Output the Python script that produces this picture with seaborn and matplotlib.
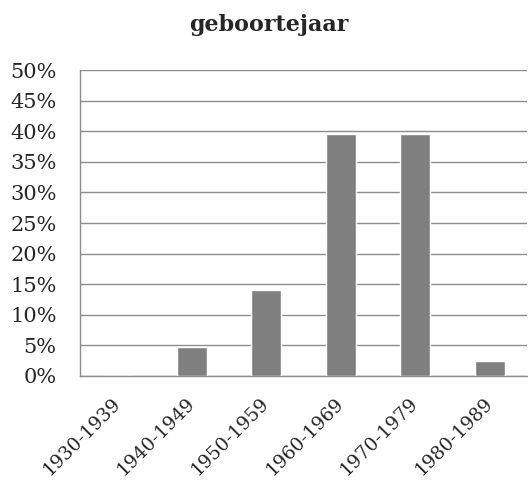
import matplotlib
matplotlib.use("Agg")
import matplotlib.pyplot as plt
import matplotlib.transforms as mtransforms
import seaborn as sns
import pandas as pd
from matplotlib.ticker import FixedLocator, PercentFormatter

categories = ['1930-1939', '1940-1949', '1950-1959', '1960-1969', '1970-1979', '1980-1989']
shares = [0.0, 4.7, 14.0, 39.5, 39.5, 2.4]

df = pd.DataFrame({'periode': categories, 'aandeel': shares})

sns.set_style('white')
plt.rcParams['font.family'] = ['DejaVu Serif', 'Liberation Serif']

fig = plt.figure(figsize=(5.28, 4.87), dpi=100)
ax = fig.add_axes([0.152, 0.228, 0.846, 0.628])

sns.barplot(data=df, x='periode', y='aandeel', color='#7f7f7f', width=0.4,
            saturation=1, ax=ax, zorder=3)

ax.set_ylim(0, 50)
ax.set_xlim(-0.5, len(categories) - 0.5)
ax.set_yticks(range(0, 51, 5))
ax.yaxis.set_major_formatter(PercentFormatter(decimals=0))
ax.yaxis.grid(True, color='#8c8c8c', linewidth=1, zorder=0)
ax.set_axisbelow(True)

ax.set_xlabel('')
ax.set_ylabel('')
ax.set_xticks(range(len(categories)))
ax.set_xticklabels(categories, rotation=45, ha='right', rotation_mode='anchor')
ax.xaxis.set_minor_locator(FixedLocator([i - 0.5 for i in range(len(categories) + 1)]))
ax.tick_params(axis='x', which='major', length=0, pad=13, labelsize=13.5)
ax.tick_params(axis='x', which='minor', length=6, color='#8c8c8c', direction='out')
ax.tick_params(axis='y', length=6, color='#8c8c8c', direction='out', labelsize=15, pad=11)

shift = mtransforms.ScaledTranslation(-6 / 100, 0, fig.dpi_scale_trans)
for lbl in ax.get_xticklabels():
    lbl.set_transform(lbl.get_transform() + shift)

for side in ['top', 'right']:
    ax.spines[side].set_visible(False)
for side in ['left', 'bottom']:
    ax.spines[side].set_color('#8c8c8c')
    ax.spines[side].set_linewidth(1)

fig.text(0.51, 0.948, 'geboortejaar', fontsize=16, fontweight='bold',
         ha='center', va='center')

fig.savefig('out.png', dpi=100)
